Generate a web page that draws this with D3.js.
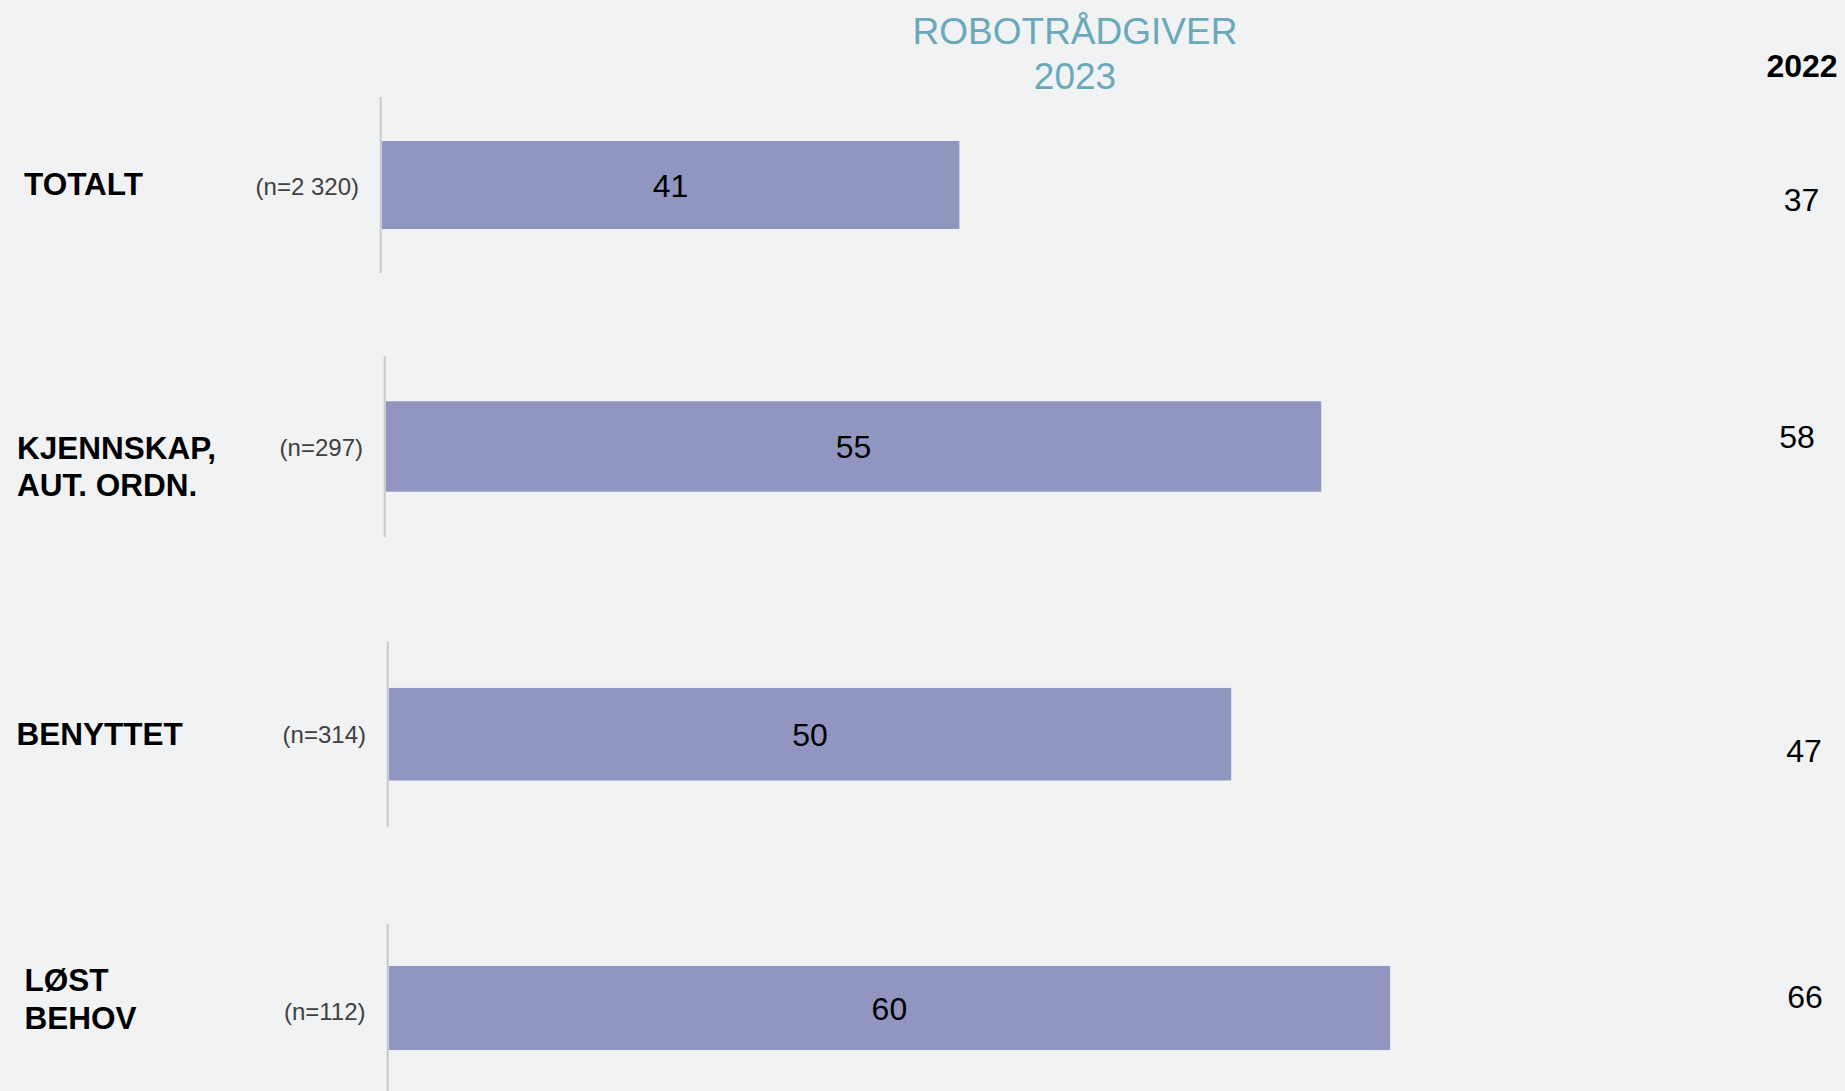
<!DOCTYPE html>
<html>
<head>
<meta charset="utf-8">
<script src="https://cdn.jsdelivr.net/npm/d3@7"></script>
<style>
  body { margin:0; background:#f1f2f4; }
  svg { display:block; font-family:"Liberation Sans", Arial, sans-serif; }
</style>
</head>
<body>
<script>
// data
var categories = [["TOTALT"], ["KJENNSKAP,","AUT. ORDN."], ["BENYTTET"], ["LØST","BEHOV"]];
var sampleSizes = ["(n=2 320)", "(n=297)", "(n=314)", "(n=112)"];
var values2023 = [41, 55, 50, 60];
var values2022 = [37, 58, 47, 66];
var titleLines = ["ROBOTRÅDGIVER", "2023"];
var prevYearLabel = "2022";

// each row is its own little chart in the original (slightly different widths/offsets)
var panels = [
  {x0:381.7, y0:97,    y1:273,    w:1409, labX:24,   labDy:10,   nX:359,   nDy:1,   prevX:1801.5, prevY:199},
  {x0:385.7, y0:356,   y1:537,    w:1701, labX:17,   labDy:12.3, nX:363,   nDy:0.7, prevX:1797,   prevY:436.5},
  {x0:388.7, y0:641.7, y1:826.7,  w:1685, labX:16.5, labDy:11,   nX:366,   nDy:0,   prevX:1804,   prevY:750.7},
  {x0:388.7, y0:924,   y1:1092,   w:1669, labX:24.5, labDy:-17,  nX:365.5, nDy:3,   prevX:1805,   prevY:996.7}
];

var W = 1845, H = 1091;
var svg = d3.select("body").append("svg").attr("width", W).attr("height", H);

svg.append("rect").attr("width", W).attr("height", H).attr("fill", "#f1f2f4");

// title
svg.append("text")
  .attr("x", 1075).attr("y", 43.5)
  .attr("text-anchor", "middle")
  .attr("fill", "#6aa9b9")
  .attr("font-size", 37)
  .selectAll("tspan")
  .data(titleLines)
  .enter().append("tspan")
    .attr("x", 1075)
    .attr("dy", function(d,i){ return i == 0 ? 0 : 45; })
    .text(function(d){ return d; });

svg.append("text")
  .attr("x", 1802).attr("y", 77)
  .attr("text-anchor", "middle")
  .attr("font-size", 32).attr("font-weight", "bold")
  .attr("fill", "#000")
  .text(prevYearLabel);

values2023.forEach(function(v, i){
  var p = panels[i];
  var x = d3.scaleLinear().domain([0, 100]).range([p.x0, p.x0 + p.w]);
  var y = d3.scaleBand().domain([i]).range([p.y0, p.y1]).paddingInner(0.5).paddingOuter(0.25);
  var g = svg.append("g");
  var cy = y(i) + y.bandwidth() / 2;

  g.append("rect")
    .attr("x", x(0))
    .attr("y", y(i))
    .attr("width", x(v) - x(0))
    .attr("height", y.bandwidth())
    .attr("fill", "#9196c1");

  // axis line
  g.append("line")
    .attr("x1", x(0) - 1).attr("x2", x(0) - 1)
    .attr("y1", p.y0).attr("y2", p.y1)
    .attr("stroke", "#c9c9c9").attr("stroke-width", 2);

  // value in the bar
  g.append("text")
    .attr("x", (x(0) + x(v)) / 2)
    .attr("y", cy)
    .attr("dy", "0.36em")
    .attr("text-anchor", "middle")
    .attr("font-size", 32)
    .attr("fill", "#000")
    .text(v);

  // category label
  g.append("text")
    .attr("font-size", 31.5).attr("font-weight", "bold").attr("fill", "#000")
    .selectAll("tspan")
    .data(categories[i])
    .enter().append("tspan")
      .attr("x", p.labX)
      .attr("y", function(d, j){ return cy + p.labDy + j * 37.5; })
      .text(function(d){ return d; });

  // sample size
  g.append("text")
    .attr("x", p.nX)
    .attr("y", cy + p.nDy)
    .attr("dy", "0.36em")
    .attr("text-anchor", "end")
    .attr("font-size", 24)
    .attr("fill", "#404040")
    .text(sampleSizes[i]);

  // last year's value
  g.append("text")
    .attr("x", p.prevX)
    .attr("y", p.prevY)
    .attr("dy", "0.36em")
    .attr("text-anchor", "middle")
    .attr("font-size", 32)
    .attr("fill", "#000")
    .text(values2022[i]);
});
</script>
</body>
</html>
